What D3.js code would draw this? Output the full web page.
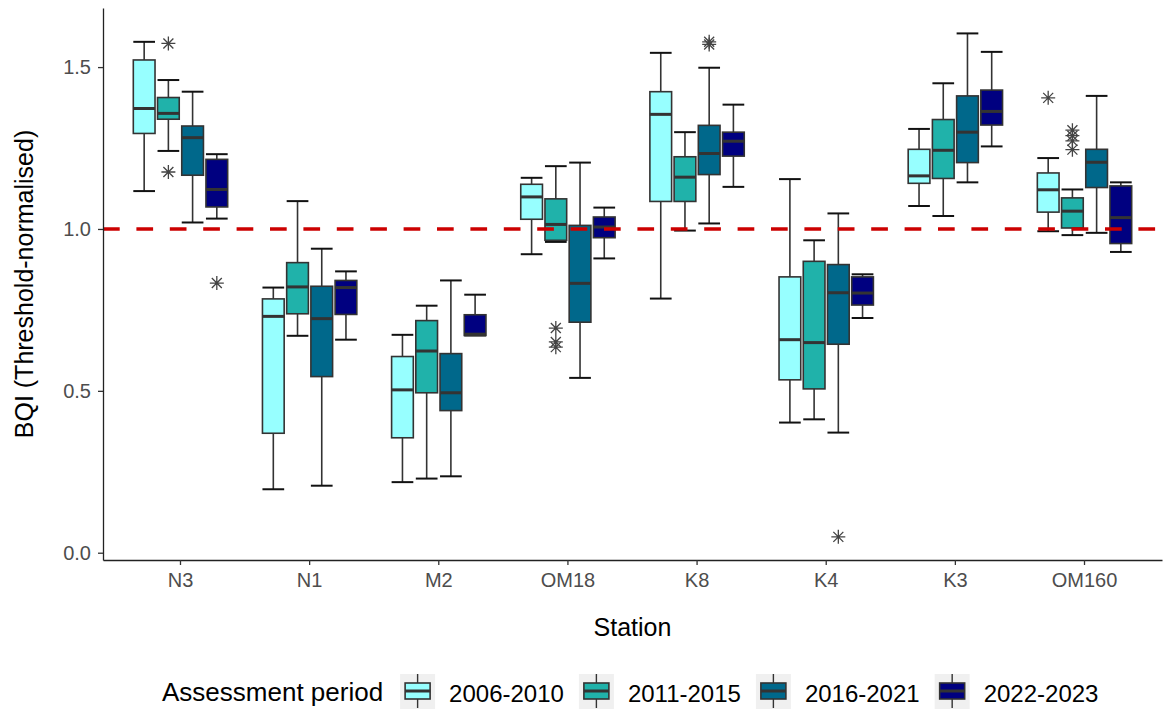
<!DOCTYPE html>
<html lang="en">
<head>
  <meta charset="UTF-8">
  <title>BQI boxplots</title>
  <script src="https://cdn.jsdelivr.net/npm/d3@7"></script>
  <style>
    body { margin: 0; background: #fff; }
    text { font-family: "Liberation Sans", Arial, sans-serif; }
  </style>
</head>
<body>
  <script>
    // stations along x, assessment periods as dodged boxes
    var stations = ["N3", "N1", "M2", "OM18", "K8", "K4", "K3", "OM160"];
    var periods = ["2006-2010", "2011-2015", "2016-2021", "2022-2023"];
    var periodColors = ["#97FFFF", "#20B2AA", "#00688B", "#000080"];

    // [lower whisker, q1, median, q3, upper whisker], one row per station
    var stats2006 = [
      [1.117, 1.295, 1.372, 1.522, 1.578],
      [0.196, 0.369, 0.730, 0.784, 0.819],
      [0.218, 0.355, 0.503, 0.606, 0.673],
      [0.922, 1.030, 1.099, 1.138, 1.158],
      [0.785, 1.085, 1.354, 1.424, 1.544],
      [0.402, 0.534, 0.658, 0.852, 1.154],
      [1.071, 1.141, 1.164, 1.246, 1.309],
      [0.993, 1.052, 1.121, 1.173, 1.219]
    ];
    var stats2011 = [
      [1.241, 1.339, 1.357, 1.406, 1.460],
      [0.670, 0.738, 0.821, 0.896, 1.086],
      [0.229, 0.494, 0.623, 0.717, 0.763],
      [0.960, 0.965, 1.014, 1.093, 1.194],
      [0.995, 1.085, 1.160, 1.223, 1.299],
      [0.412, 0.506, 0.649, 0.900, 0.965],
      [1.040, 1.156, 1.243, 1.338, 1.450],
      [0.981, 1.003, 1.055, 1.096, 1.122]
    ];
    var stats2016 = [
      [1.020, 1.166, 1.282, 1.318, 1.424],
      [0.207, 0.544, 0.723, 0.823, 0.939],
      [0.236, 0.439, 0.494, 0.615, 0.841],
      [0.540, 0.712, 0.832, 1.011, 1.205],
      [1.017, 1.168, 1.233, 1.320, 1.498],
      [0.371, 0.644, 0.803, 0.890, 1.048],
      [1.144, 1.205, 1.299, 1.411, 1.604],
      [0.988, 1.128, 1.206, 1.246, 1.411]
    ];
    var stats2022 = [
      [1.032, 1.068, 1.122, 1.215, 1.231],
      [0.658, 0.736, 0.819, 0.841, 0.869],
      [0.671, 0.671, 0.675, 0.735, 0.797],
      [0.909, 0.973, 1.006, 1.037, 1.066],
      [1.130, 1.225, 1.271, 1.299, 1.384],
      [0.725, 0.765, 0.802, 0.852, 0.860],
      [1.255, 1.321, 1.363, 1.429, 1.547],
      [0.929, 0.955, 1.035, 1.133, 1.144]
    ];

    // outliers: [station, period, value]
    var outliers = [
      ["N3", "2011-2015", 1.573], ["N3", "2011-2015", 1.176],
      ["N3", "2022-2023", 0.833],
      ["OM18", "2011-2015", 0.694], ["OM18", "2011-2015", 0.651], ["OM18", "2011-2015", 0.635],
      ["K8", "2016-2021", 1.570], ["K8", "2016-2021", 1.578],
      ["K4", "2016-2021", 0.049],
      ["OM160", "2006-2010", 1.405],
      ["OM160", "2011-2015", 1.305], ["OM160", "2011-2015", 1.288],
      ["OM160", "2011-2015", 1.272], ["OM160", "2011-2015", 1.245]
    ];

    var yTicks = [0, 0.5, 1.0, 1.5];
    var threshold = 1.0;

    var statsByPeriod = [stats2006, stats2011, stats2016, stats2022];

    // flatten into one record per box
    var boxes = [];
    periods.forEach(function(p, pi) {
      statsByPeriod[pi].forEach(function(s, si) {
        boxes.push({station: stations[si], period: p, lo: s[0], q1: s[1], med: s[2], q3: s[3], hi: s[4]});
      });
    });

    var width = 1165, height = 709;
    var plotL = 103, plotR = 1162, plotT = 8, plotB = 560;

    var svg = d3.select("body").append("svg")
      .attr("width", width).attr("height", height);

    var x = d3.scaleBand()
      .domain(stations)
      .range([plotL, plotR])
      .paddingInner(0)
      .paddingOuter(0.1);

    var step = x.step();
    var xInner = d3.scaleBand()
      .domain(periods)
      .range([-0.375 * step, 0.375 * step]);

    var y = d3.scaleLinear()
      .domain([-0.0225, 1.6825])
      .range([plotB, plotT]);

    var color = d3.scaleOrdinal().domain(periods).range(periodColors);

    function cx(d) {
      return x(d.station) + x.bandwidth() / 2 + xInner(d.period) + xInner.bandwidth() / 2;
    }
    var boxW = xInner.bandwidth() - 2.5;

    /* ERRORBAR LAYER (whiskers + caps) */
    var eb = svg.append("g");
    eb.selectAll("line.vert").data(boxes).enter().append("line")
      .attr("x1", cx).attr("x2", cx)
      .attr("y1", d => y(d.lo)).attr("y2", d => y(d.hi))
      .attr("stroke", "#333").attr("stroke-width", 1.6);
    eb.selectAll("line.capt").data(boxes).enter().append("line")
      .attr("x1", d => cx(d) - boxW / 2).attr("x2", d => cx(d) + boxW / 2)
      .attr("y1", d => y(d.hi)).attr("y2", d => y(d.hi))
      .attr("stroke", "#111").attr("stroke-width", 2);
    eb.selectAll("line.capb").data(boxes).enter().append("line")
      .attr("x1", d => cx(d) - boxW / 2).attr("x2", d => cx(d) + boxW / 2)
      .attr("y1", d => y(d.lo)).attr("y2", d => y(d.lo))
      .attr("stroke", "#111").attr("stroke-width", 2);

    /* BOXES */
    var bx = svg.append("g").selectAll("g").data(boxes).enter().append("g");
    bx.append("rect")
      .attr("x", d => cx(d) - boxW / 2)
      .attr("width", boxW)
      .attr("y", d => y(d.q3))
      .attr("height", d => Math.max(0.5, y(d.q1) - y(d.q3)))
      .attr("fill", d => color(d.period))
      .attr("stroke", "#333")
      .attr("stroke-width", 1.6);
    bx.append("line")
      .attr("x1", d => cx(d) - boxW / 2).attr("x2", d => cx(d) + boxW / 2)
      .attr("y1", d => y(d.med)).attr("y2", d => y(d.med))
      .attr("stroke", "#333").attr("stroke-width", 3);

    /* OUTLIERS (asterisks) */
    var star = "M-7,0L7,0M0,-7L0,7M-5,-5L5,5M-5,5L5,-5";
    svg.append("g").selectAll("path").data(outliers).enter().append("path")
      .attr("d", star)
      .attr("transform", d => "translate(" + cx({station: d[0], period: d[1]}) + "," + y(d[2]) + ")")
      .attr("fill", "none")
      .attr("stroke", "#444")
      .attr("stroke-width", 1.3);

    /* THRESHOLD LINE */
    svg.append("line")
      .attr("x1", plotL).attr("x2", plotR)
      .attr("y1", y(threshold)).attr("y2", y(threshold))
      .attr("stroke", "#CC0000")
      .attr("stroke-width", 3.5)
      .attr("stroke-dasharray", "16.7,16.7");

    /* AXES */
    var axisY = d3.axisLeft(y).tickValues(yTicks).tickFormat(d3.format(".1f"))
      .tickSize(5).tickSizeOuter(0).tickPadding(7);
    var gy = svg.append("g").attr("transform", "translate(" + plotL + ",0)").call(axisY);

    var axisX = d3.axisBottom(x).tickSize(5).tickSizeOuter(0).tickPadding(8);
    var gx = svg.append("g").attr("transform", "translate(0," + plotB + ")").call(axisX);

    [gx, gy].forEach(function(g) {
      g.select(".domain").attr("stroke", "#222").attr("stroke-width", 1.3);
      g.selectAll(".tick line").attr("stroke", "#333").attr("stroke-width", 1.3);
      g.selectAll(".tick text")
        .attr("fill", "#4D4D4D")
        .style("font-size", "20px")
        .style("font-family", "'Liberation Sans', Arial, sans-serif");
    });

    // axis titles
    svg.append("text")
      .attr("transform", "rotate(-90)")
      .attr("x", -(plotT + plotB) / 2)
      .attr("y", 33)
      .attr("text-anchor", "middle")
      .style("font-size", "25px")
      .text("BQI (Threshold-normalised)");

    svg.append("text")
      .attr("x", (plotL + plotR) / 2)
      .attr("y", 636)
      .attr("text-anchor", "middle")
      .style("font-size", "25px")
      .text("Station");

    /* LEGEND */
    var lg = svg.append("g");
    var title = lg.append("text")
      .attr("x", 162).attr("y", 701)
      .style("font-size", "26px")
      .text("Assessment period");
    var cursor = 162 + title.node().getComputedTextLength() + 17;

    periods.forEach(function(p) {
      var k = lg.append("g").attr("transform", "translate(" + cursor + ",674)");
      k.append("rect").attr("width", 35).attr("height", 35).attr("fill", "#F0F0F0");
      k.append("line").attr("x1", 17.5).attr("x2", 17.5).attr("y1", 0).attr("y2", 34)
        .attr("stroke", "#333").attr("stroke-width", 1.4);
      k.append("rect").attr("x", 5).attr("y", 9).attr("width", 25).attr("height", 16)
        .attr("fill", color(p)).attr("stroke", "#333").attr("stroke-width", 1.6);
      k.append("line").attr("x1", 5).attr("x2", 30).attr("y1", 17).attr("y2", 17)
        .attr("stroke", "#333").attr("stroke-width", 3);
      var t = lg.append("text")
        .attr("x", cursor + 49).attr("y", 702)
        .style("font-size", "24px")
        .text(p);
      cursor += 49 + t.node().getComputedTextLength() + 15;
    });
  </script>
</body>
</html>
